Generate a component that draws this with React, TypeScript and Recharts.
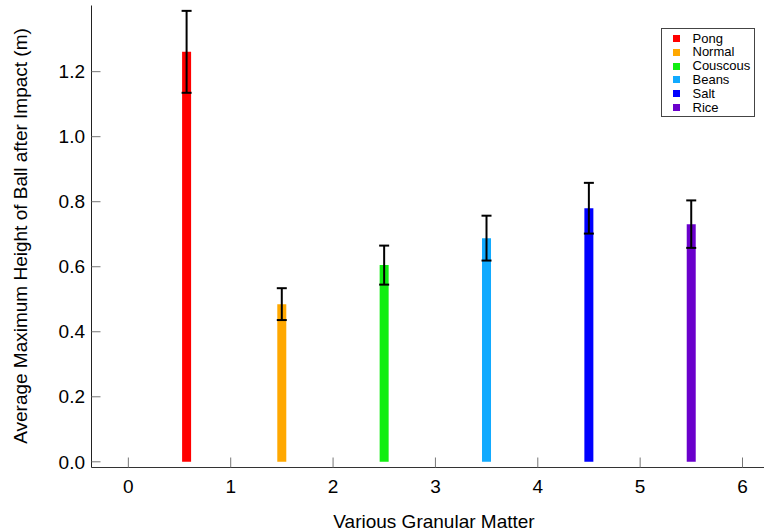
import { Bar, Cell, ComposedChart, ErrorBar, Label, Legend, XAxis, YAxis } from "recharts";

// values
const names = ["Pong", "Normal", "Couscous", "Beans", "Salt", "Rice"];
const positions = [0.57, 1.5, 2.5, 3.5, 4.5, 5.5];
const heights = [1.261, 0.485, 0.605, 0.688, 0.78, 0.731];
const errors = [0.126, 0.049, 0.06, 0.069, 0.078, 0.073];
const colors = ["#ff0000", "#ffa800", "#11ee11", "#11aaff", "#0000ff", "#6a00cc"];
const xTicks = [0, 1, 2, 3, 4, 5, 6];
const yTicks = [0, 0.2, 0.4, 0.6, 0.8, 1.0, 1.2];

const data = names.map((name, i) => ({ name, pos: positions[i], height: heights[i], err: errors[i] }));

const FONT = "'Liberation Sans', Arial, Helvetica, sans-serif";
const PLOT_LEFT = 91.5;
const PLOT_TOP = 5.5;
const PLOT_BOTTOM = 467.5;
const TICK = "#777";

const YTick = (props: any) => {
  const { y, payload } = props;
  return (
    <g>
      <line x1={PLOT_LEFT} x2={PLOT_LEFT + 9} y1={y} y2={y} stroke={TICK} />
      <text x={85} y={y} dy={6.7} textAnchor="end" fontSize={19} fontFamily={FONT} fill="#000">
        {Number(payload.value).toFixed(1)}
      </text>
    </g>
  );
};

const XTick = (props: any) => {
  const { x, payload } = props;
  return (
    <g>
      <line x1={x} x2={x} y1={PLOT_BOTTOM} y2={PLOT_BOTTOM - 10} stroke={TICK} />
      <text x={x} y={493} textAnchor="middle" fontSize={19} fontFamily={FONT} fill="#000">
        {payload.value}
      </text>
    </g>
  );
};

const TopTick = (props: any) => {
  const { x } = props;
  return <line x1={x} x2={x} y1={PLOT_TOP} y2={PLOT_TOP + 9} stroke={TICK} />;
};

const LegendBox = () => (
  <div
    style={{
      width: 94,
      height: 89,
      boxSizing: "border-box",
      border: "1px solid #444",
      background: "#fff",
      paddingTop: 2.5,
      fontFamily: FONT,
      fontSize: 13,
      color: "#000",
    }}
  >
    {names.map((n, i) => (
      <div key={n} style={{ display: "flex", alignItems: "center", height: 13.85 }}>
        <span style={{ width: 7, height: 7, marginLeft: 11, background: colors[i], display: "inline-block" }} />
        <span style={{ marginLeft: 12.5, lineHeight: "13.85px" }}>{n}</span>
      </div>
    ))}
  </div>
);

const App = () => {
  return (
    <div style={{ position: "absolute", left: 0, top: 0 }}>
      <ComposedChart
        width={764}
        height={531}
        data={data}
        margin={{ top: PLOT_TOP, right: 0, bottom: 0, left: 0 }}
        style={{ background: "#fff" }}
      >
        <XAxis
          dataKey="pos"
          type="number"
          domain={[-0.36, 6.21]}
          ticks={xTicks}
          allowDataOverflow
          height={531 - PLOT_BOTTOM}
          axisLine={{ stroke: "#333" }}
          tickLine={false}
          tick={XTick}
        >
          <Label
            content={() => (
              <text x={434} y={528} textAnchor="middle" fontSize={19} fontFamily={FONT} fill="#000">
                Various Granular Matter
              </text>
            )}
          />
        </XAxis>
        <XAxis
          xAxisId="top"
          orientation="top"
          dataKey="pos"
          type="number"
          domain={[-0.36, 6.21]}
          ticks={xTicks}
          allowDataOverflow
          height={0}
          axisLine={{ stroke: "#888" }}
          tickLine={false}
          tick={TopTick}
        />
        <YAxis
          type="number"
          domain={[-0.0175, 1.4035]}
          ticks={yTicks}
          allowDataOverflow
          width={PLOT_LEFT}
          axisLine={{ stroke: "#222" }}
          tickLine={false}
          tick={YTick}
        >
          <Label
            content={() => (
              <text
                x={27}
                y={236}
                transform="rotate(-90 27 236)"
                textAnchor="middle"
                fontSize={19}
                fontFamily={FONT}
                fill="#000"
              >
                Average Maximum Height of Ball after Impact (m)
              </text>
            )}
          />
        </YAxis>
        <Legend
          layout="vertical"
          align="center"
          verticalAlign="middle"
          content={LegendBox}
          wrapperStyle={{ position: "absolute", left: 661, top: 28, width: 94, height: 89 }}
        />
        <Bar dataKey="height" barSize={9} isAnimationActive={false}>
          {data.map((d, i) => (
            <Cell key={d.name} fill={colors[i]} />
          ))}
          <ErrorBar dataKey="err" width={5} strokeWidth={2} stroke="#000" />
        </Bar>
      </ComposedChart>
    </div>
  );
};

export default App;
